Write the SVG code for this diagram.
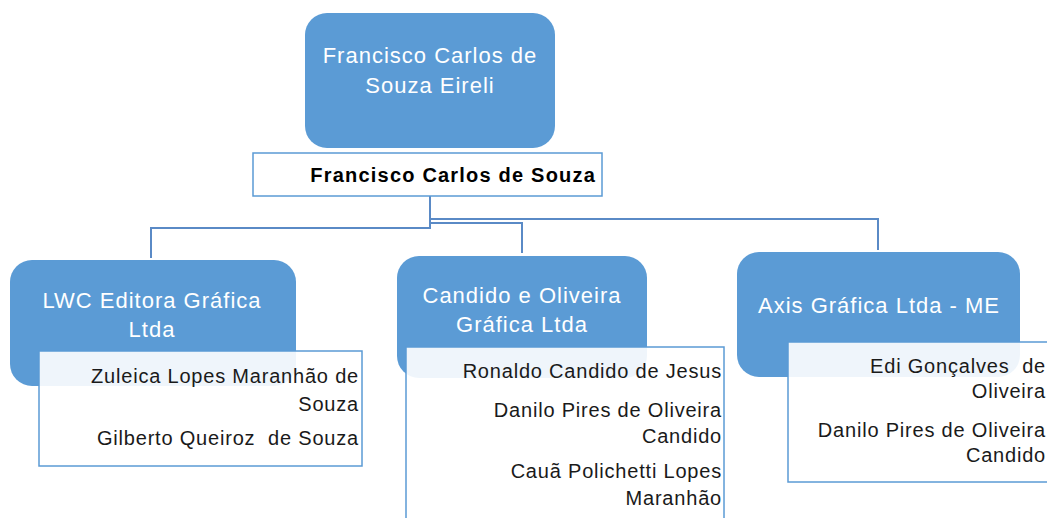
<svg xmlns="http://www.w3.org/2000/svg" width="1047" height="518" viewBox="0 0 1047 518">
<style>
.box{fill:#5b9bd5;}
.sub{fill:#ffffff;fill-opacity:0.9;stroke:#5b9bd5;stroke-width:1.5;}
.t{font-family:"Liberation Sans",Arial,sans-serif;font-size:22px;fill:#ffffff;letter-spacing:1px;text-anchor:middle;}
.n{font-family:"Liberation Sans",Arial,sans-serif;font-size:20px;fill:#1a1a1a;letter-spacing:0.8px;text-anchor:end;white-space:pre;}
.b{font-family:"Liberation Sans",Arial,sans-serif;font-size:20px;font-weight:bold;fill:#000000;letter-spacing:1.2px;text-anchor:end;}
.c{fill:none;stroke:#5a8ac6;stroke-width:2;}
</style>
<rect width="1047" height="518" fill="#ffffff"/>
<g id="connectors">
<path class="c" d="M430 196 V228 H151 V258"/>
<path class="c" d="M430 223 H522 V253"/>
<path class="c" d="M430 219 H878 V250"/>
</g>
<g id="top">
<rect class="box" x="305" y="13" width="250" height="135" rx="22"/>
<text class="t" x="430" y="63">Francisco Carlos de</text>
<text class="t" x="430" y="93">Souza Eireli</text>
<rect class="sub" x="253" y="153" width="349" height="43"/>
<text class="b" x="596" y="182">Francisco Carlos de Souza</text>
</g>
<g id="lwc">
<rect class="box" x="10" y="260" width="286" height="126" rx="22"/>
<text class="t" x="152" y="308">LWC Editora Gráfica</text>
<text class="t" x="152" y="337">Ltda</text>
<rect class="sub" x="39" y="351" width="323" height="115"/>
<text class="n" x="359" y="383">Zuleica Lopes Maranhão de</text>
<text class="n" x="359" y="411">Souza</text>
<text class="n" x="359" y="445" xml:space="preserve">Gilberto Queiroz  de Souza</text>
</g>
<g id="candido">
<rect class="box" x="397" y="256" width="250" height="122" rx="22"/>
<text class="t" x="522" y="303">Candido e Oliveira</text>
<text class="t" x="522" y="332">Gráfica Ltda</text>
<rect class="sub" x="406" y="347" width="318" height="185"/>
<text class="n" x="722" y="378">Ronaldo Candido de Jesus</text>
<text class="n" x="722" y="417">Danilo Pires de Oliveira</text>
<text class="n" x="722" y="443">Candido</text>
<text class="n" x="722" y="478">Cauã Polichetti Lopes</text>
<text class="n" x="722" y="505">Maranhão</text>
</g>
<g id="axis">
<rect class="box" x="737" y="252" width="283" height="125" rx="22"/>
<text class="t" x="879" y="313">Axis Gráfica Ltda - ME</text>
<rect class="sub" x="788" y="342" width="280" height="140"/>
<text class="n" x="1046" y="373" xml:space="preserve">Edi Gonçalves  de</text>
<text class="n" x="1046" y="398">Oliveira</text>
<text class="n" x="1046" y="437">Danilo Pires de Oliveira</text>
<text class="n" x="1046" y="462">Candido</text>
</g>
</svg>
